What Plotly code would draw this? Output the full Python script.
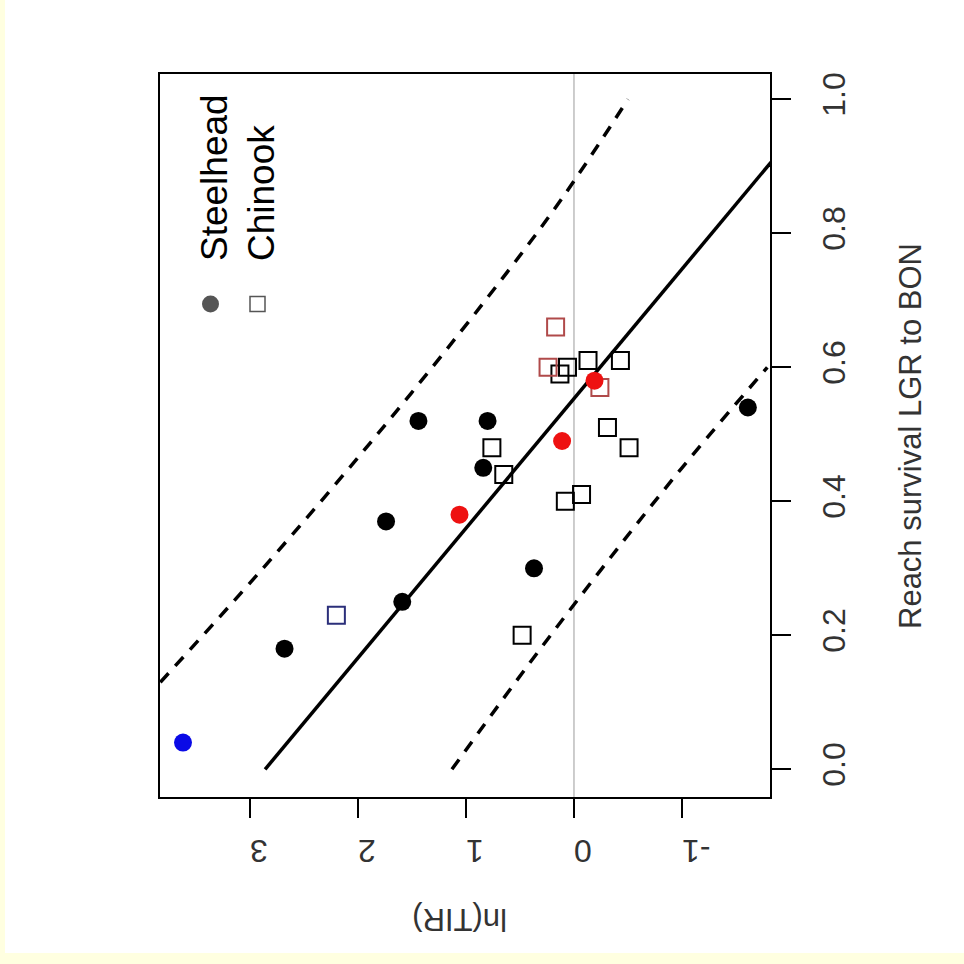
import plotly.graph_objects as go

# ---- data (survival = reach survival LGR to BON, lntir = ln(TIR)) ----
sh_black_surv = [0.18, 0.25, 0.37, 0.30, 0.45, 0.52, 0.52, 0.54]
sh_black_lntir = [2.68, 1.59, 1.74, 0.37, 0.84, 0.80, 1.44, -1.61]
sh_red_surv = [0.38, 0.49, 0.58]
sh_red_lntir = [1.06, 0.11, -0.19]
sh_blue_surv = [0.04]
sh_blue_lntir = [3.62]

ck_black_surv = [0.20, 0.40, 0.41, 0.48, 0.44, 0.51, 0.48, 0.59, 0.60, 0.61, 0.61]
ck_black_lntir = [0.48, 0.08, -0.07, 0.76, 0.65, -0.31, -0.51, 0.13, 0.06, -0.13, -0.43]
ck_brown_surv = [0.60, 0.66, 0.57]
ck_brown_lntir = [0.24, 0.17, -0.24]
ck_navy_surv = [0.23]
ck_navy_lntir = [2.20]

fit_surv = [0.0, 1.0]
fit_lntir = [2.86, -2.31]
upper_surv = [0.13, 0.3, 0.5, 0.7, 0.85, 1.0]
upper_lntir = [3.83, 2.88, 1.82, 0.82, 0.12, -0.50]
lower_surv = [0.0, 0.15, 0.3, 0.45, 0.6]
lower_lntir = [1.13, 0.45, -0.26, -1.00, -1.79]

surv_ticks = [0.0, 0.2, 0.4, 0.6, 0.8, 1.0]
surv_ticklabels = ["0.0", "0.2", "0.4", "0.6", "0.8", "1.0"]
lntir_ticks = [3, 2, 1, 0, -1]
lntir_ticklabels = ["3", "2", "1", "0", "-1"]

FONT = "Liberation Sans, Arial, sans-serif"

fig = go.Figure()

# reference line at ln(TIR)=0
fig.add_trace(go.Scatter(x=[0, 0], y=[-0.0413, 1.0377], mode="lines",
                         line=dict(color="#bdbdbd", width=1.5), showlegend=False, hoverinfo="skip"))

fig.add_trace(go.Scatter(x=upper_lntir, y=upper_surv, mode="lines",
                         line=dict(color="black", width=3.5, dash="12px,10px", shape="spline"),
                         showlegend=False))
fig.add_trace(go.Scatter(x=lower_lntir, y=lower_surv, mode="lines",
                         line=dict(color="black", width=3.5, dash="12px,10px", shape="spline"),
                         showlegend=False))
fig.add_trace(go.Scatter(x=fit_lntir, y=fit_surv, mode="lines",
                         line=dict(color="black", width=3.5), showlegend=False))

def sq(x, y, color):
    fig.add_trace(go.Scatter(x=x, y=y, mode="markers", showlegend=False,
                             marker=dict(symbol="square-open", size=17, color=color,
                                         line=dict(width=2, color=color))))

def ci(x, y, color):
    fig.add_trace(go.Scatter(x=x, y=y, mode="markers", showlegend=False,
                             marker=dict(symbol="circle", size=18, color=color,
                                         line=dict(width=0))))

sq(ck_black_lntir, ck_black_surv, "black")
sq(ck_brown_lntir, ck_brown_surv, "#b04a4a")
sq(ck_navy_lntir, ck_navy_surv, "#2b2f7a")
ci(sh_black_lntir, sh_black_surv, "black")
ci(sh_red_lntir, sh_red_surv, "#ee1111")
ci(sh_blue_lntir, sh_blue_surv, "#0a0ae6")

L, R, T, B = 160, 194, 74, 167
W = H = 964
pw, ph = W - L - R, H - T - B

def px(xp):
    return (xp - L) / pw

def py(yp):
    return (H - B - yp) / ph

shapes = [
    # yellow frame strips
    dict(type="rect", xref="paper", yref="paper", x0=px(0), x1=px(5), y0=py(964), y1=py(0),
         fillcolor="#ffffe0", line=dict(width=0), layer="below"),
    dict(type="rect", xref="paper", yref="paper", x0=px(0), x1=px(964), y0=py(964), y1=py(953),
         fillcolor="#ffffe0", line=dict(width=0), layer="below"),
    # legend symbols
    dict(type="circle", xref="paper", yref="paper", x0=px(202), x1=px(219), y0=py(312.5), y1=py(295.5),
         fillcolor="#555555", line=dict(width=0)),
    dict(type="rect", xref="paper", yref="paper", x0=px(250), x1=px(265), y0=py(311.5), y1=py(296.5),
         fillcolor="rgba(0,0,0,0)", line=dict(width=1.5, color="#555555")),
]

annotations = [
    dict(text="Steelhead", xref="paper", yref="paper", x=px(214), y=py(178), showarrow=False,
         textangle=-90, font=dict(family=FONT, size=37, color="black"), xanchor="center", yanchor="middle"),
    dict(text="Chinook", xref="paper", yref="paper", x=px(262), y=py(193), showarrow=False,
         textangle=-90, font=dict(family=FONT, size=37, color="black"), xanchor="center", yanchor="middle"),
    dict(text="Reach survival LGR to BON", xref="paper", yref="paper", x=px(910), y=py(436),
         showarrow=False, textangle=-90, font=dict(family=FONT, size=31, color="#333"),
         xanchor="center", yanchor="middle"),
    dict(text="ln(TIR)", xref="paper", yref="paper", x=px(460), y=py(920),
         showarrow=False, textangle=180, font=dict(family=FONT, size=31, color="#333"),
         xanchor="center", yanchor="middle"),
]

fig.update_layout(
    width=W, height=H,
    margin=dict(l=L, r=R, t=T, b=B),
    paper_bgcolor="white", plot_bgcolor="white",
    showlegend=False,
    shapes=shapes, annotations=annotations,
    xaxis=dict(range=[3.833, -1.815], tickmode="array", tickvals=lntir_ticks, ticktext=lntir_ticklabels,
               ticks="outside", ticklen=19, tickwidth=1.5, tickcolor="black", tickangle=180,
               showgrid=False, zeroline=False, showline=True, linecolor="black", linewidth=1.5,
               mirror=True, tickfont=dict(family=FONT, size=32, color="#333"), ticklabelstandoff=16),
    yaxis=dict(range=[-0.0413, 1.0377], side="right", tickmode="array", tickvals=surv_ticks,
               ticktext=surv_ticklabels, ticks="outside", ticklen=19, tickwidth=1.5, tickcolor="black",
               tickangle=-90, showgrid=False, zeroline=False, showline=True, linecolor="black",
               linewidth=1.5, mirror=True, tickfont=dict(family=FONT, size=32, color="#333"),
               ticklabelstandoff=16),
)

fig.write_html("out.html", config={"displayModeBar": False},
               post_script="document.body.style.margin='0';document.body.style.overflow='hidden';")
